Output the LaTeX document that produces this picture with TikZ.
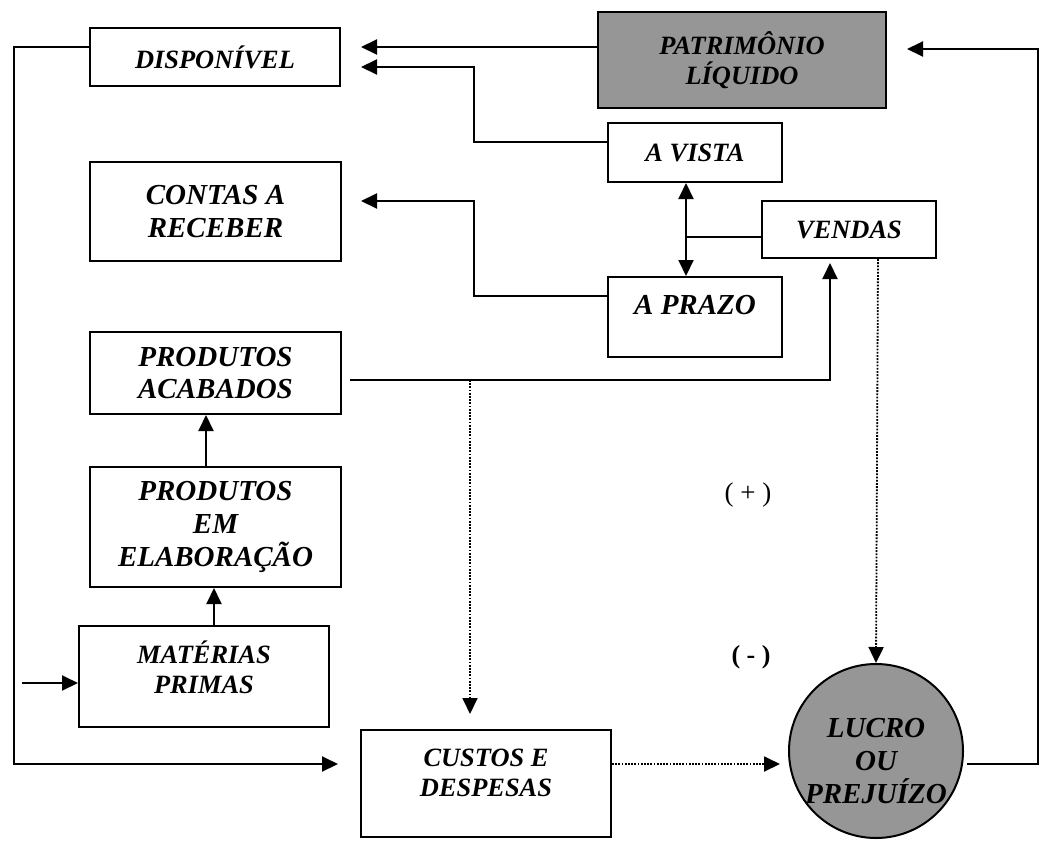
\documentclass[tikz,border=0pt]{standalone}
\usepackage{fontspec}
\setmainfont{Liberation Serif}
\usepackage{xcolor}
\usetikzlibrary{arrows.meta}
\definecolor{cinza}{RGB}{150,150,150}

\begin{document}
\begin{tikzpicture}[x=0.5pt,y=-0.5pt,
    caixa/.style={draw,line width=1pt,inner sep=0pt,align=center},
    fonte/.style={font=\bfseries\itshape\fontsize{13.2}{15.2}\selectfont},
    maior/.style={font=\bfseries\itshape\fontsize{14.5}{16.3}\selectfont},
    seta/.style={line width=1pt,-{Triangle[length=8pt,width=7.5pt]}},
    seta2/.style={line width=1pt,{Triangle[length=8pt,width=7.5pt]}-{Triangle[length=8pt,width=7.5pt]}},
    pont/.style={line width=0.9pt,dash pattern=on 0.9pt off 0.7pt,-{Triangle[length=8pt,width=7.5pt]}}]
    \useasboundingbox (0,0) rectangle (1044,841);
    % contas
    \node[caixa,fonte,minimum width=125pt,minimum height=29pt] (disp) at (215,57) {DISPONÍVEL};
    \node[caixa,fonte,fill=cinza,minimum width=144pt,minimum height=48pt] (pl) at (742,60) {PATRIMÔNIO\\LÍQUIDO};
    \node[caixa,fonte,minimum width=87pt,minimum height=29.5pt] (vista) at (695,152.5) {A VISTA};
    \node[caixa,fonte,minimum width=87pt,minimum height=28.5pt] (vendas) at (849,229.5) {VENDAS};
    \node[caixa,minimum width=87pt,minimum height=40pt,
        label={[maior,yshift=6pt]center:A PRAZO}] (prazo) at (695,317) {};
    \node[caixa,maior,minimum width=125.5pt,minimum height=49.5pt] (contas) at (215.5,211.5) {CONTAS A\\RECEBER};
    \node[caixa,maior,minimum width=125.5pt,minimum height=41pt] (acab) at (215.5,373) {PRODUTOS\\ACABADOS};
    \node[caixa,maior,minimum width=125.5pt,minimum height=60pt] (elab) at (215.5,527) {PRODUTOS\\EM\\ELABORAÇÃO};
    \node[caixa,minimum width=125pt,minimum height=50.5pt,
        label={[fonte,align=center,yshift=4.75pt]center:MATÉRIAS\\PRIMAS}] (mat) at (204,676.5) {};
    \node[caixa,minimum width=125pt,minimum height=53.5pt,
        label={[fonte,align=center,yshift=5.25pt]center:CUSTOS E\\DESPESAS}] (custos) at (486,783.5) {};
    \node[caixa,circle,fill=cinza,minimum size=87pt,
        label={[maior,align=center,yshift=-5pt]center:LUCRO\\OU\\PREJUÍZO}] (lucro) at (876,751) {};
    \node[font=\fontsize{13.5}{15}\selectfont] (mais) at (748,495) {( + )};
    \node[font=\bfseries\fontsize{13}{15}\selectfont] (menos) at (751,657) {( - )};
    \coordinate (entrada) at (22,683);
    \coordinate (desvio) at (470,380);
    % fluxos
    \draw[seta] (disp.west |- 0,47) -| (14,764) -- ([xshift=-11pt]custos.west |- 0,764);
    \draw[seta] (pl.west |- 0,47) -- ([xshift=10pt]disp.east |- 0,47);
    \draw[seta] (vista.west |- 0,142) -| (474,67) -- ([xshift=10pt]disp.east |- 0,67);
    \draw[seta] (prazo.west |- 0,296) -| (474,201) -- ([xshift=9.5pt]contas.east |- 0,201);
    \draw[seta2] (vista.south -| 686,0) -- (prazo.north -| 686,0);
    \draw[line width=1pt] (vendas.west |- 0,237) -- (686,237);
    \draw[seta] ([xshift=4pt]acab.east |- 0,380) -| ([yshift=-2pt]vendas.south -| 830,0);
    \draw[pont] (desvio) -- ([yshift=7.5pt]custos.north -| 470,0);
    \draw[pont] (vendas.south -| 878,0) -- (lucro.north);
    \draw[pont] (custos.east |- 0,764) -- ([xshift=-4pt]lucro.west |- 0,764);
    \draw[seta] ([xshift=1.5pt]lucro.east |- 0,764) -| (1038,49) -- ([xshift=10pt]pl.east |- 0,49);
    \draw[seta] (elab.north -| 206,0) -- (acab.south -| 206,0);
    \draw[seta] (mat.north -| 214,0) -- (elab.south -| 214,0);
    \draw[seta] (entrada) -- (mat.west |- entrada);
\end{tikzpicture}
\end{document}
